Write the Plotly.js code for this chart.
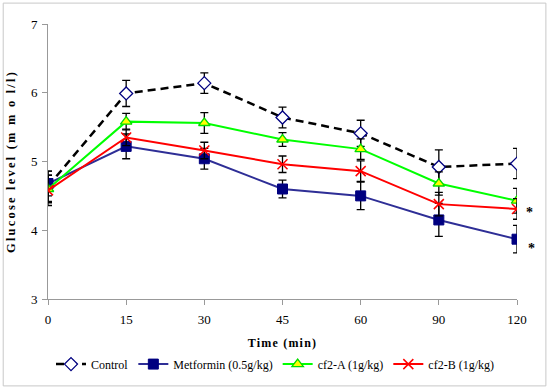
<!DOCTYPE html>
<html>
<head>
<meta charset="utf-8">
<script src="https://cdn.plot.ly/plotly-3.0.1.min.js"></script>
<style>
  html, body { margin: 0; padding: 0; background: #fff; }
  #chart { width: 550px; height: 389px; }
  .ytitle { letter-spacing: 2.2px; }
  .xtitle { letter-spacing: 1.2px; }
</style>
</head>
<body>
<div id="chart"></div>
<script>
// Time points (min) shown as equally spaced categories
const timeLabels = ['0', '15', '30', '45', '60', '90', '120'];
const timeIndex = [0, 1, 2, 3, 4, 5, 6];

const controlMean = [4.64, 5.99, 6.14, 5.64, 5.41, 4.92, 4.97];
const controlErr  = [0.22, 0.19, 0.15, 0.15, 0.19, 0.25, 0.22];

const metforminMean = [4.68, 5.22, 5.04, 4.60, 4.50, 4.15, 3.87];
const metforminErr  = [0.18, 0.18, 0.15, 0.13, 0.20, 0.24, 0.20];

const cf2aMean = [4.60, 5.58, 5.56, 5.32, 5.18, 4.68, 4.43];
const cf2aErr  = [0.20, 0.12, 0.15, 0.10, 0.15, 0.17, 0.18];

const cf2bMean = [4.58, 5.35, 5.16, 4.96, 4.86, 4.38, 4.31];
const cf2bErr  = [0.22, 0.12, 0.12, 0.12, 0.15, 0.17, 0.15];

const seriesNames = ['Control', 'Metformin (0.5g/kg)', 'cf2-A (1g/kg)', 'cf2-B (1g/kg)'];

const serif = '"Liberation Serif", "Times New Roman", serif';

function errBar(arr) {
  return { type: 'data', array: arr, visible: true, color: '#000', thickness: 1.3, width: 4 };
}

const traces = [
  {
    x: timeIndex, y: controlMean, name: seriesNames[0], type: 'scatter', mode: 'lines+markers',
    line: { color: '#000', width: 2.5, dash: '8px,5px' },
    marker: { symbol: 'diamond', size: 10, color: '#fff', line: { color: '#000080', width: 1.3 } },
    error_y: errBar(controlErr)
  },
  {
    x: timeIndex, y: metforminMean, name: seriesNames[1], type: 'scatter', mode: 'lines+markers',
    line: { color: '#2E2E96', width: 2 },
    marker: { symbol: 'square', size: 10, color: '#000080', line: { color: '#000080', width: 1 } },
    error_y: errBar(metforminErr)
  },
  {
    x: timeIndex, y: cf2aMean, name: seriesNames[2], type: 'scatter', mode: 'lines+markers',
    line: { color: '#00FF00', width: 2 },
    marker: { symbol: 'triangle-up', size: 10, color: '#FFFF00', line: { color: '#00DD00', width: 1.3 } },
    error_y: errBar(cf2aErr)
  },
  {
    x: timeIndex, y: cf2bMean, name: seriesNames[3], type: 'scatter', mode: 'lines+markers',
    line: { color: '#FF0000', width: 2 },
    marker: { symbol: 'x-thin-open', size: 10, color: '#FF0000', line: { color: '#FF0000', width: 1.5 } },
    error_y: errBar(cf2bErr)
  }
];

const layout = {
  width: 550, height: 389,
  margin: { l: 48, r: 33, t: 24, b: 90 },
  paper_bgcolor: '#fff', plot_bgcolor: '#fff',
  font: { family: serif, size: 12, color: '#000' },
  showlegend: true,
  legend: {
    orientation: 'h', xref: 'container', yref: 'container',
    x: 0.5, xanchor: 'center', y: 0.064, yanchor: 'middle',
    font: { family: serif, size: 12, color: '#000' }, itemwidth: 30, tracegroupgap: 0
  },
  xaxis: {
    range: [0, 6], tickvals: timeIndex, ticktext: timeLabels,
    showgrid: false, zeroline: false, showline: true, linecolor: '#999', linewidth: 1,
    ticks: 'outside', ticklen: 5, tickcolor: '#999', ticklabelstandoff: 3,
    tickfont: { family: serif, size: 13 },
    title: { text: 'Time (min)', font: { family: serif, size: 12, weight: 'bold' }, standoff: 19 }
  },
  yaxis: {
    range: [3, 7], dtick: 1, tick0: 3,
    showgrid: false, zeroline: false, showline: true, linecolor: '#999', linewidth: 1,
    ticks: 'outside', ticklen: 5, tickcolor: '#999', ticklabelstandoff: 2,
    tickfont: { family: serif, size: 13 },
    title: { text: 'Glucose level (m m o l/l)', font: { family: serif, size: 12.5, weight: 'bold' }, standoff: 12 }
  },
  shapes: [
    { type: 'rect', xref: 'paper', yref: 'paper', x0: -0.0955, x1: 1.0616, y0: -0.316, y1: 1.076,
      line: { color: '#C8C8C8', width: 1 }, fillcolor: 'rgba(0,0,0,0)', layer: 'below' }
  ],
  annotations: [
    { x: timeIndex[6], y: cf2bMean[6], xref: 'x', yref: 'y', text: '*', showarrow: false,
      xshift: 12, yshift: -4, font: { family: serif, size: 14, weight: 'bold' } },
    { x: timeIndex[6], y: metforminMean[6], xref: 'x', yref: 'y', text: '*', showarrow: false,
      xshift: 14, yshift: -9, font: { family: serif, size: 14, weight: 'bold' } }
  ]
};

Plotly.newPlot('chart', traces, layout, { displayModeBar: false, staticPlot: true });
</script>
</body>
</html>
